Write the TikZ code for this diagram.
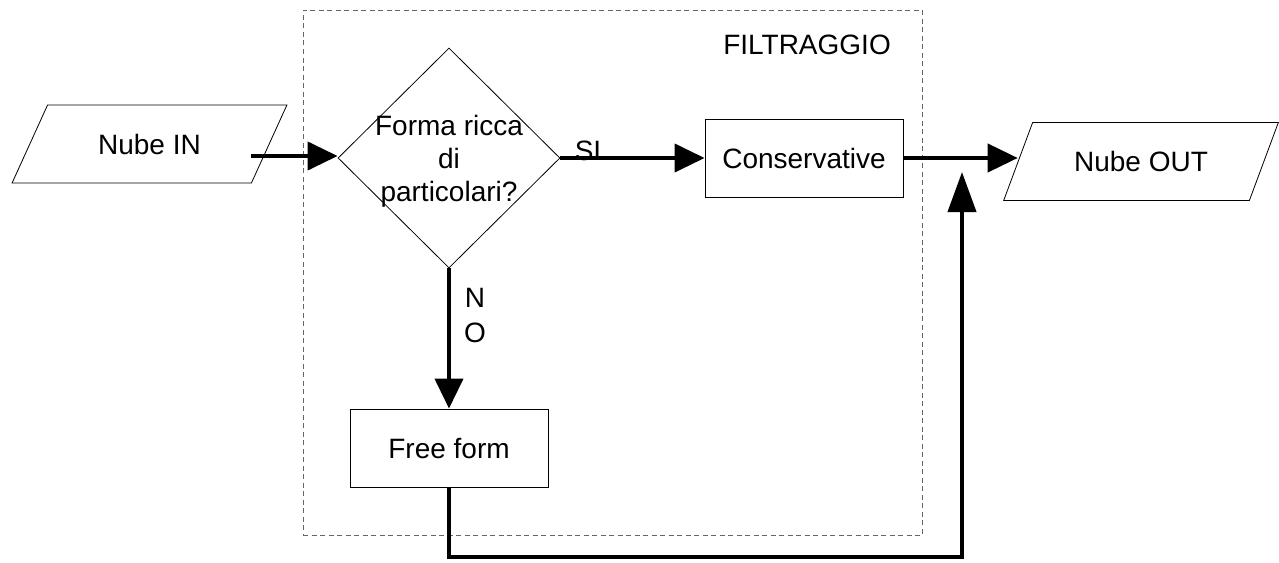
\documentclass[tikz,border=0pt]{standalone}
\usepackage{fontspec}
\setmainfont{Liberation Sans}
\usetikzlibrary{shapes.geometric,arrows.meta}

\begin{document}
\begin{tikzpicture}[x=1pt,y=1pt,
  every node/.style={font=\fontsize{28}{33}\selectfont},
  box/.style={draw, line width=0.8pt, rectangle, minimum width=198pt, minimum height=78pt, inner sep=0pt},
  para/.style={draw, line width=0.8pt, trapezium, trapezium left angle=49, trapezium right angle=131, trapezium stretches=true, minimum width=275pt, minimum height=78pt, inner sep=0pt},
  dec/.style={draw, line width=0.8pt, diamond, minimum width=222pt, minimum height=220pt, inner sep=0pt},
  frame/.style={draw=black!60, line width=1pt, dash pattern=on 5pt off 3.5pt, rectangle, inner sep=0pt},
  flow/.style={line width=4pt, -{Triangle[length=30pt,width=28pt]}},
  flowup/.style={line width=4pt, -{Triangle[length=40pt,width=28pt]}},
  lbl/.style={inner sep=0pt}
]
\useasboundingbox (0,0) rectangle (1279,-562);

% group frame
\node[frame, minimum width=619pt, minimum height=525pt] (filt) at (612.5,-272.5) {};
\node[lbl] (filtlbl) at (807,-45) {FILTRAGGIO};

% nodes
\node[para] (nin) at (149.5,-144) {Nube IN};
\node[dec] (dia) at (449,-158) {};
\node[lbl, align=center] (diatxt) at (449,-161) {Forma ricca\\di\\particolari?};
\node[box] (cons) at (804,-158) {Conservative};
\node[para] (nout) at (1141,-161.5) {Nube OUT};
\node[box] (ff) at (449,-448) {Free form};

% labels
\node[lbl] (si) at (588,-151) {SI};
\node[lbl] (lblN) at (475,-298) {N};
\node[lbl] (lblO) at (475,-333) {O};

% connectors
\coordinate (a1) at (251,-156);
\draw[flow] (a1) -- (a1 -| dia.west);
\draw[flow] (dia.east) -- (dia.east -| cons.west);
\draw[flow] (cons.east) -- (cons.east -| nout.west);
\draw[flow] (dia.south) -- (ff.north);
\coordinate (bot) at (962,-557);
\coordinate (upend) at (962,-172);
\draw[flowup] (ff.south) |- (bot) -- (upend);
\end{tikzpicture}
\end{document}
